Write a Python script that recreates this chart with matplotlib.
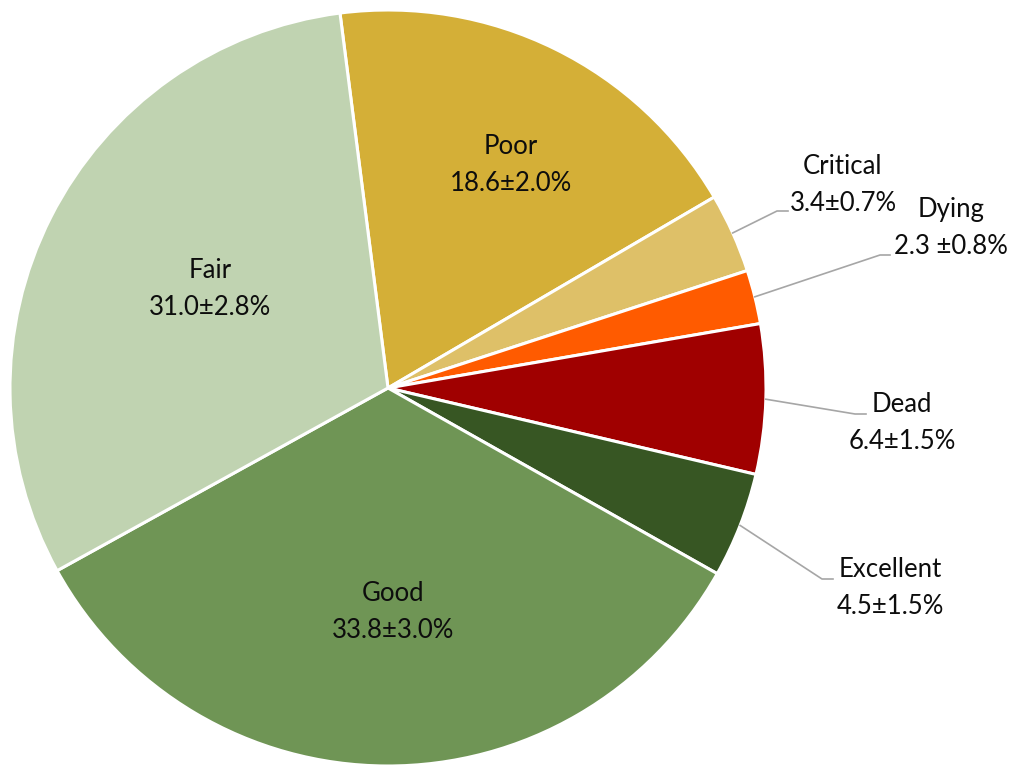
import numpy as np
import matplotlib
matplotlib.use("Agg")
import matplotlib.pyplot as plt

# condition classes, clockwise from the top
labels = ['Poor', 'Critical', 'Dying', 'Dead', 'Excellent', 'Good', 'Fair']
values = [18.6, 3.4, 2.3, 6.4, 4.5, 33.8, 31.0]
errors = ['2.0', '0.7', '0.8', '1.5', '1.5', '3.0', '2.8']
colors = ['#D4AF37', '#DEC068', '#FF5B00', '#A00000', '#375623', '#6F9555', '#C0D3B1']

plt.rcParams['font.family'] = ['Lato', 'DejaVu Sans']

W, H = 1018, 766
cx, cy, R = 388, 388, 378
fig = plt.figure(figsize=(W / 100, H / 100), dpi=100)
ax = fig.add_axes([0, 0, 1, 1])

wedges, _ = ax.pie(values, colors=colors, startangle=97.3, counterclock=False,
                   radius=1, wedgeprops=dict(edgecolor='white', linewidth=2.2))

ax.set_xlim(-cx / R, (W - cx) / R)
ax.set_ylim(-(H - cy) / R, cy / R)
ax.set_aspect('equal')
ax.axis('off')


def px(x, y):
    # pixel position -> data coords
    return (x - cx) / R, (cy - y) / R


def text_of(i):
    sep = ' ' if labels[i] == 'Dying' else ''
    return '%s\n%.1f%s±%s%%' % (labels[i], values[i], sep, errors[i])


fs = 18.5
ls = 1.6
# labels inside the big slices
inside = {'Poor': (511, 165), 'Fair': (210, 289), 'Good': (393, 612)}
for name, (x, y) in inside.items():
    i = labels.index(name)
    ax.text(*px(x, y), text_of(i), ha='center', va='center', fontsize=fs,
            linespacing=ls, color='#0d0d0d')

# labels outside with leader lines: (elbow, line end, text centre)
outside = {
    'Critical': ((777, 211), (788, 211), (843, 185)),
    'Dying': ((880, 255), (890, 255), (951, 228)),
    'Dead': ((855, 414), (866, 414), (902, 423)),
    'Excellent': ((822, 579), (833, 579), (890, 588)),
}
for name, (elbow, end, pos) in outside.items():
    i = labels.index(name)
    w = wedges[i]
    mid = np.deg2rad((w.theta1 + w.theta2) / 2)
    x0, y0 = np.cos(mid), np.sin(mid)
    ex, ey = px(*elbow)
    nx, ny = px(*end)
    ax.plot([x0, ex, nx], [y0, ey, ny], color='#A6A6A6', lw=1.2)
    ax.text(*px(*pos), text_of(i), ha='center', va='center', fontsize=fs,
            linespacing=ls, color='#0d0d0d')

fig.savefig('out.png', dpi=100)
